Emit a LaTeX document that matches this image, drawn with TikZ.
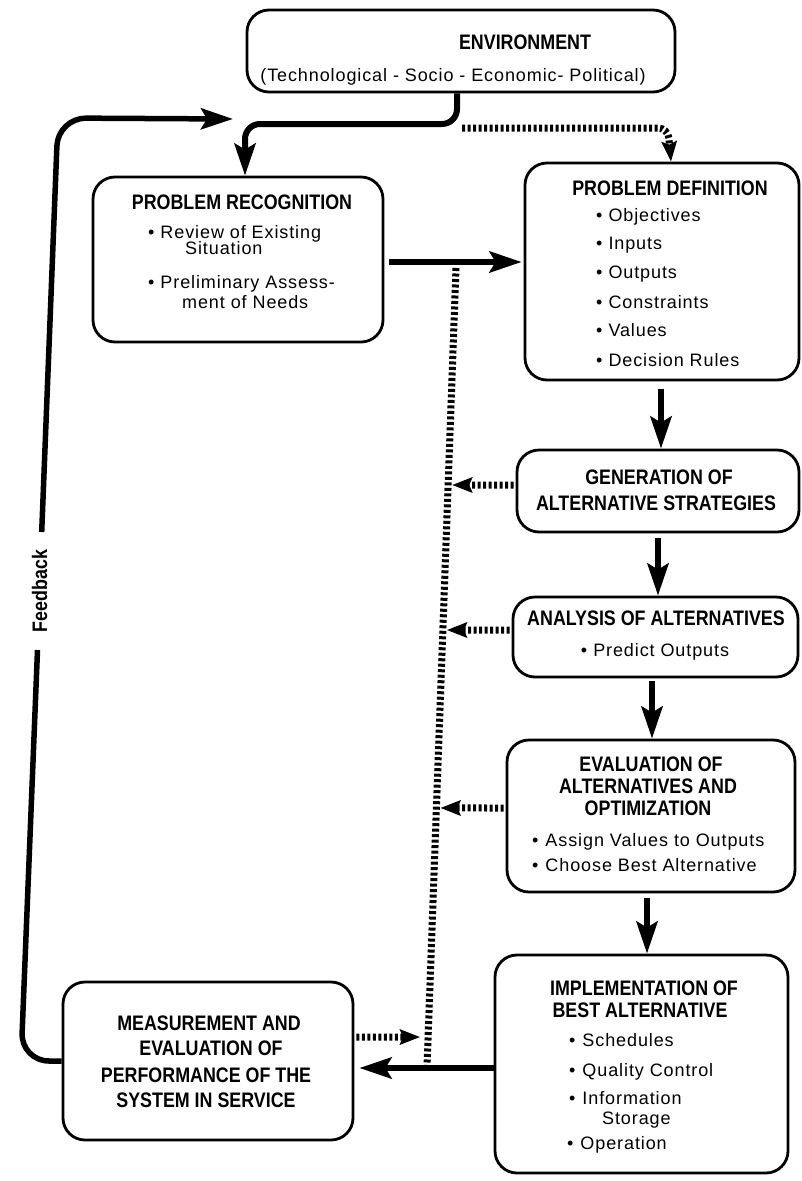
\documentclass[tikz,border=0pt]{standalone}
\usepackage{fontspec}
\setmainfont{Liberation Sans}
\newfontfamily\ttlfont{Liberation Sans}[FakeStretch=0.85]
\newfontfamily\bdyfont{Liberation Sans}[LetterSpace=5]
\usetikzlibrary{arrows.meta,calc}
\begin{document}
\begin{tikzpicture}[x=1pt,y=-1pt,
 box/.style={draw, line width=2.8pt, rounded corners=22pt, inner sep=0pt},
 ttl/.style={anchor=base, inner sep=0pt, font=\ttlfont\bfseries\fontsize{21}{24}\selectfont},
 bdy/.style={anchor=base west, inner sep=0pt, font=\bdyfont\fontsize{18}{20}\selectfont},
 bdyc/.style={bdy, anchor=base},
 flow/.style={line width=6pt, -{Stealth[length=32pt,width=21pt,inset=6pt]}},
 dots/.style={line width=7pt, dash pattern=on 3pt off 2.5pt},
 dotarrow/.style={dots, -{Stealth[length=20pt,width=15pt,inset=3pt]}},
]
\useasboundingbox (0,0) rectangle (801,1181);

% boxes
\node[box, minimum width=428pt, minimum height=82pt] (env) at (461,51) {};
\node[box, minimum width=290pt, minimum height=165pt] (pr) at (238,259.5) {};
\node[box, minimum width=274pt, minimum height=217pt] (pd) at (662,271.5) {};
\node[box, minimum width=282pt, minimum height=82pt] (gen) at (658,491) {};
\node[box, minimum width=285pt, minimum height=80pt] (ana) at (655.5,637) {};
\node[box, minimum width=288pt, minimum height=152pt] (eval) at (651,816) {};
\node[box, minimum width=293pt, minimum height=218pt] (impl) at (641.5,1064) {};
\node[box, minimum width=290pt, minimum height=158pt] (meas) at (208,1061) {};

% texts
\node[ttl] (envT) at (525,49) {ENVIRONMENT};
\node[bdyc] (envS) at (453,81) {(Technological - Socio - Economic- Political)};

\node[ttl] (prT) at (242,209) {PROBLEM RECOGNITION};
\node[bdy] (pr1) at (148,238) {•\kern6pt Review of Existing};
\node[bdy] (pr1b) at (185,254) {Situation};
\node[bdy] (pr2) at (148,288) {•\kern6pt Preliminary Assess-};
\node[bdy] (pr2b) at (182,308) {ment of Needs};

\node[ttl] (pdT) at (670,195) {PROBLEM DEFINITION};
\node[bdy] (pd1) at (596,221) {•\kern6pt Objectives};
\node[bdy] (pd2) at (596,249) {•\kern6pt Inputs};
\node[bdy] (pd3) at (596,278) {•\kern6pt Outputs};
\node[bdy] (pd4) at (596,308) {•\kern6pt Constraints};
\node[bdy] (pd5) at (596,336) {•\kern6pt Values};
\node[bdy] (pd6) at (596,366) {•\kern6pt Decision Rules};

\node[ttl] (genT1) at (659,484) {GENERATION OF};
\node[ttl] (genT2) at (656,510) {ALTERNATIVE STRATEGIES};

\node[ttl] (anaT) at (656,625) {ANALYSIS OF ALTERNATIVES};
\node[bdyc] (ana1) at (655,656) {•\kern6pt Predict Outputs};

\node[ttl] (evT1) at (651,771) {EVALUATION OF};
\node[ttl] (evT2) at (648,793) {ALTERNATIVES AND};
\node[ttl] (evT3) at (648,815) {OPTIMIZATION};
\node[bdy] (ev1) at (532,846) {•\kern7pt Assign Values to Outputs};
\node[bdy] (ev2) at (532,871) {•\kern7pt Choose Best Alternative};

\node[ttl] (imT1) at (644,995) {IMPLEMENTATION OF};
\node[ttl] (imT2) at (640,1017) {BEST ALTERNATIVE};
\node[bdy] (im1) at (569,1046) {•\kern7pt Schedules};
\node[bdy] (im2) at (569,1076) {•\kern7pt Quality Control};
\node[bdy] (im3) at (569,1104) {•\kern7pt Information};
\node[bdy] (im3b) at (602,1124) {Storage};
\node[bdy] (im4) at (567,1149) {•\kern7pt Operation};

\node[ttl] (meT1) at (209,1030) {MEASUREMENT AND};
\node[ttl] (meT2) at (211,1055) {EVALUATION OF};
\node[ttl] (meT3) at (206,1082) {PERFORMANCE OF THE};
\node[ttl] (meT4) at (206,1107) {SYSTEM IN SERVICE};

\node[ttl, anchor=center, rotate=90] (fb) at (39.5,591) {Feedback};

% helper coordinates
\coordinate (xa) at (457,0);
\coordinate (xb) at (245,0);
\coordinate (xd) at (671,0);
\coordinate (ya) at (0,262);
\coordinate (yb) at (0,1068);
\coordinate (xg) at (661,0);
\coordinate (xh) at (658,0);
\coordinate (xi) at (652,0);
\coordinate (xj) at (647,0);
\coordinate (fbtip) at (233,119);
\coordinate (dtop) at (456,268);
\coordinate (dbot) at (427,1067);
\coordinate (g1) at ($(dtop)!0.2716!(dbot)$);
\coordinate (a1) at ($(dtop)!0.4531!(dbot)$);
\coordinate (e1) at ($(dtop)!0.6758!(dbot)$);
\coordinate (m1) at ($(dtop)!0.9625!(dbot)$);
\coordinate (g0) at (0,485);
\coordinate (a0) at (0,630);
\coordinate (e0) at (0,808);
\coordinate (m0) at (0,1037);

% environment -> problem recognition
\draw[flow, rounded corners=15pt] (env.south -| xa) -- (457,124) -- (245,124) -- (pr.north -| xb);
% environment -> problem definition (dotted)
\draw[dotarrow, rounded corners=10pt] (462,128) -- (668,128) -- (pd.north -| xd);

% feedback
\draw[line width=5.5pt, rounded corners=28pt] (meas.west) -- (21,1061) -- (37.5,650);
\draw[flow, line width=5.5pt, rounded corners=28pt] (41.7,532) -- (58,118) -- (fbtip);

% main flow
\draw[flow] ($(pr.east |- ya)+(5,0)$) -- ($(pd.west |- ya)+(-2,0)$);
\draw[flow] ($(pd.south -| xg)+(0,8)$) -- (gen.north -| xg);
\draw[flow] ($(gen.south -| xh)+(0,5)$) -- (ana.north -| xh);
\draw[flow] ($(ana.south -| xi)+(0,3)$) -- (eval.north -| xi);
\draw[flow] ($(eval.south -| xj)+(0,5)$) -- (impl.north -| xj);
\draw[flow] (impl.west |- yb) -- ($(meas.east |- yb)+(5,0)$);

% dotted information line
\draw[dots] (dtop) -- (dbot);
\draw[dotarrow] ($(gen.west |- g0)+(-2,0)$) -- ($(g1)+(4,0)$);
\draw[dotarrow] ($(ana.west |- a0)+(-2,0)$) -- ($(a1)+(4,0)$);
\draw[dotarrow] ($(eval.west |- e0)+(-2,0)$) -- ($(e1)+(4,0)$);
\draw[dotarrow] ($(meas.east |- m0)+(2,0)$) -- ($(m1)+(-8,0)$);
\end{tikzpicture}
\end{document}
